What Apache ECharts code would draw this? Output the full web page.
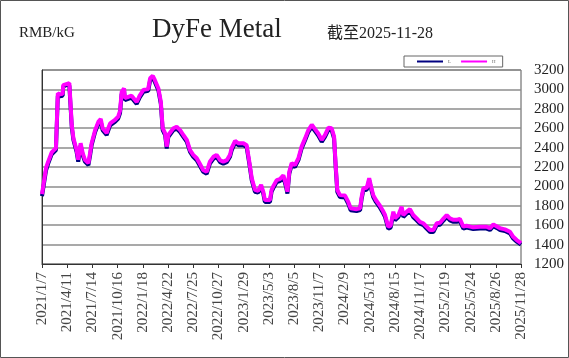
<!DOCTYPE html>
<html>
<head>
<meta charset="utf-8">
<script src="https://cdn.jsdelivr.net/npm/echarts@6/dist/echarts.min.js"></script>
<style>
html, body { margin: 0; padding: 0; background: #fff; }
#main { width: 569px; height: 358px; }
</style>
</head>
<body>
<div id="main"></div>
<script>
// price dates
var dates = [
    '2021/1/7','2021/1/22','2021/1/30','2021/2/12','2021/2/28','2021/3/7','2021/3/15','2021/3/25','2021/3/27','2021/4/3',
    '2021/4/19','2021/4/28','2021/5/4','2021/5/16','2021/5/22','2021/5/31','2021/6/8','2021/6/16','2021/6/29','2021/7/5',
    '2021/7/11','2021/7/24','2021/8/5','2021/8/14','2021/8/21','2021/9/5','2021/9/11','2021/9/18','2021/10/6','2021/10/18',
    '2021/10/25','2021/10/31','2021/11/9','2021/11/12','2021/12/7','2021/12/26',
    '2022/1/7','2022/1/20','2022/2/7','2022/2/14','2022/2/24','2022/3/4','2022/3/17','2022/3/26','2022/4/2','2022/4/11',
    '2022/4/17','2022/4/23','2022/5/12','2022/5/24','2022/6/6','2022/6/18','2022/7/1','2022/7/13','2022/7/25','2022/8/7',
    '2022/8/19','2022/8/31','2022/9/13','2022/9/25','2022/10/8','2022/10/20','2022/11/2','2022/11/14','2022/11/27','2022/12/9',
    '2022/12/15','2022/12/28',
    '2023/1/9','2023/1/28','2023/2/9','2023/2/19','2023/2/28','2023/3/12','2023/3/24','2023/4/4','2023/4/12','2023/4/18',
    '2023/5/7','2023/5/13','2023/5/19','2023/6/1','2023/6/13','2023/6/26','2023/7/6','2023/7/11','2023/7/18','2023/7/27',
    '2023/8/8','2023/8/21','2023/9/2','2023/9/15','2023/9/27','2023/10/10','2023/10/22','2023/11/3','2023/11/16','2023/11/28',
    '2023/12/11','2023/12/23',
    '2024/1/1','2024/1/7','2024/1/13','2024/1/23','2024/2/11','2024/2/23','2024/3/3','2024/3/25','2024/4/7','2024/4/13',
    '2024/4/19','2024/5/2','2024/5/11','2024/5/20','2024/5/26','2024/6/5','2024/6/18','2024/6/30','2024/7/9','2024/7/21',
    '2024/7/30','2024/8/9','2024/8/15','2024/8/28','2024/9/9','2024/9/15','2024/9/28','2024/10/10','2024/10/22','2024/11/4',
    '2024/11/16','2024/11/29','2024/12/11','2024/12/24',
    '2025/1/5','2025/1/18','2025/1/30','2025/2/11','2025/2/24','2025/3/8','2025/3/21','2025/4/2','2025/4/14','2025/4/27',
    '2025/5/9','2025/6/3','2025/6/28','2025/7/23','2025/8/4','2025/8/17','2025/8/29','2025/9/11','2025/9/29','2025/10/18',
    '2025/10/30','2025/11/12','2025/11/28'
];
var high = [
    1920,2190,2255,2350,2395,2960,2950,2955,3045,3065,3065,2630,2500,2375,2275,2445,2340,2275,2240,2340,
    2445,2580,2665,2695,2600,2550,2600,2650,2685,2720,2780,2975,3010,2910,2935,2870,
    2940,2995,3005,3115,3140,3095,3010,2875,2600,2550,2410,2530,2600,2615,2580,2530,2480,2375,2325,2290,
    2230,2170,2150,2255,2305,2325,2270,2255,2270,2325,2395,2470,
    2445,2445,2425,2255,2085,1965,1955,2015,1945,1860,1860,1965,2000,2065,2075,2115,2015,1945,2150,2240,
    2220,2290,2410,2495,2580,2635,2590,2545,2480,2530,2605,2600,
    2515,2220,1965,1910,1905,1840,1775,1765,1775,1895,1980,1985,2085,1975,1910,1860,1810,1755,1705,1585,
    1595,1740,1670,1705,1790,1705,1740,1765,1705,1670,1635,1620,1585,1550,
    1550,1620,1625,1665,1705,1670,1655,1655,1665,1585,1595,1578,1585,1585,1568,1608,1590,1568,1557,1533,
    1480,1447,1415
];
var low = [
    1900,2165,2235,2330,2375,2935,2930,2935,3020,3045,3040,2610,2480,2355,2255,2420,2320,2255,2220,2315,
    2425,2560,2645,2670,2580,2530,2575,2630,2665,2700,2755,2950,2990,2890,2915,2850,
    2920,2975,2985,3090,3120,3075,2990,2850,2580,2530,2390,2510,2580,2595,2560,2510,2460,2355,2305,2270,
    2210,2150,2130,2235,2285,2305,2250,2235,2250,2305,2370,2450,
    2425,2425,2405,2235,2065,1945,1935,1995,1925,1840,1840,1945,1980,2045,2055,2095,1995,1925,2130,2220,
    2200,2270,2390,2475,2560,2615,2570,2525,2460,2510,2585,2580,
    2495,2200,1945,1890,1885,1820,1755,1745,1755,1875,1960,1965,2060,1955,1890,1840,1790,1735,1685,1565,
    1575,1720,1650,1685,1770,1685,1720,1745,1685,1650,1615,1600,1565,1530,
    1530,1600,1605,1645,1685,1650,1635,1635,1645,1565,1575,1560,1565,1565,1550,1590,1572,1550,1540,1515,
    1462,1430,1400
];
var seriesNames = ['L', 'H'];
var firstDay = '2021/1/7';
var lastDay = '2025/11/28';
var labelStep = 94; // days between date labels

var DAY = 86400000;
function toUTC(s) {
    var p = s.split('/');
    return Date.UTC(+p[0], +p[1] - 1, +p[2]);
}
var t0 = toUTC(firstDay);
function dayIndex(s) {
    return Math.round((toUTC(s) - t0) / DAY);
}
function dayLabel(v) {
    var t = new Date(t0 + v * DAY);
    return t.getUTCFullYear() + '/' + (t.getUTCMonth() + 1) + '/' + t.getUTCDate();
}

var serif = 'Liberation Serif, Noto Sans CJK SC, serif';
var myChart = echarts.init(document.getElementById('main'));
var option = {
    animation: false,
    color: ['#000080', '#ff00ff'],
    grid: {
        left: 42, right: 48, top: 70, bottom: 94,
        show: true,
        borderColor: '#555',
        borderWidth: 1
    },
    legend: {
        data: seriesNames,
        left: 404,
        top: 56,
        icon: 'rect',
        itemWidth: 26,
        itemHeight: 2,
        itemGap: 10,
        padding: [3, 7, 3, 13],
        borderColor: '#666',
        borderWidth: 1,
        textStyle: { fontSize: 5, color: '#666', fontFamily: serif }
    },
    xAxis: {
        type: 'value',
        min: 0,
        max: dayIndex(lastDay),
        interval: labelStep,
        axisLine: { show: true, lineStyle: { color: '#333', width: 1 } },
        axisTick: { show: true, length: 4, lineStyle: { color: '#333' } },
        splitLine: { show: false },
        axisLabel: {
            rotate: 90,
            margin: 8,
            fontSize: 15,
            color: '#444',
            fontFamily: serif,
            formatter: dayLabel
        }
    },
    yAxis: {
        type: 'value',
        position: 'right',
        min: 1200,
        max: 3200,
        interval: 200,
        axisLine: { show: true, lineStyle: { color: '#333' } },
        axisTick: { show: false },
        splitLine: { show: true, lineStyle: { color: '#8c8c8c', width: 1.5 } },
        axisLabel: {
            margin: 13,
            fontSize: 15,
            color: '#222',
            fontFamily: serif,
            formatter: function (v) { return String(v); }
        }
    },
    series: [
        {
            name: seriesNames[0],
            type: 'line',
            symbol: 'none',
            lineStyle: { width: 4, color: '#000080' },
            data: dates.map(function (d, i) { return [dayIndex(d), low[i]]; })
        },
        {
            name: seriesNames[1],
            type: 'line',
            symbol: 'none',
            lineStyle: { width: 4, color: '#ff00ff' },
            data: dates.map(function (d, i) { return [dayIndex(d), high[i]]; })
        }
    ],
    graphic: [
        {
            type: 'rect',
            silent: true,
            shape: { x: 0.5, y: 0.5, width: 568, height: 357 },
            style: { fill: 'none', stroke: '#555', lineWidth: 1 }
        },
        {
            type: 'text', left: 19, top: 26,
            style: { text: 'RMB/kG', font: '15px ' + serif, fill: '#222' }
        },
        {
            type: 'text', left: 152, top: 16,
            style: { text: 'DyFe Metal', font: '27px ' + serif, fill: '#222' }
        },
        {
            type: 'text', left: 327, top: 26,
            style: { text: '截至2025-11-28', font: '16px ' + serif, fill: '#222' }
        }
    ]
};
myChart.setOption(option);
</script>
</body>
</html>
